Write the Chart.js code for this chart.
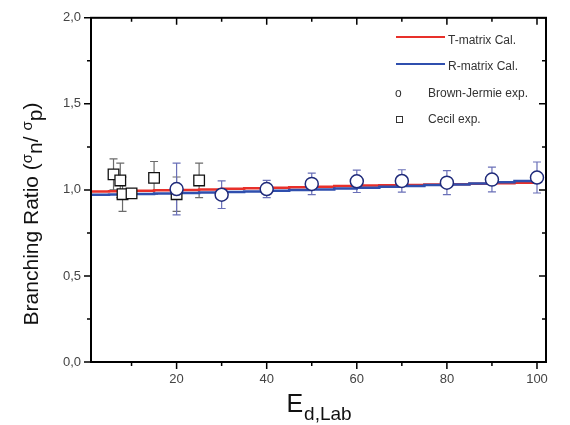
<!DOCTYPE html>
<html lang="en">
<head>
  <meta charset="UTF-8">
  <title>Branching Ratio</title>
  <script src="https://cdn.jsdelivr.net/npm/chart.js"></script>
  <style>
    body { margin: 0; background: #fff; }
  </style>
</head>
<body>
  <canvas id="chart" width="570" height="425"></canvas>

  <script>
    // calculations (T-matrix, R-matrix)
    const calcX = [1, 5, 10, 15, 20, 25, 30, 35, 40, 45, 50, 55, 60, 65, 70, 75, 80, 85, 90, 95, 100];
    const tMatrix = [0.990, 0.992, 0.995, 0.998, 1.000, 1.003, 1.006, 1.010, 1.013, 1.016, 1.019, 1.022, 1.025, 1.027, 1.029, 1.031, 1.033, 1.036, 1.039, 1.042, 1.045];
    const rMatrix = [0.972, 0.973, 0.976, 0.979, 0.982, 0.985, 0.988, 0.991, 0.995, 0.999, 1.003, 1.008, 1.013, 1.018, 1.023, 1.028, 1.032, 1.037, 1.045, 1.052, 1.058];

    // Brown-Jermie exp.
    const bjX = [20, 30, 40, 50, 60, 70, 80, 90, 100];
    const bjY = [1.005, 0.972, 1.005, 1.035, 1.050, 1.052, 1.042, 1.060, 1.072];
    const bjErr = [0.150, 0.080, 0.050, 0.062, 0.065, 0.065, 0.070, 0.072, 0.090];

    // Cecil exp.
    const cecilX = [6, 7.5, 8, 10, 15, 20, 25];
    const cecilY = [1.090, 1.055, 0.975, 0.980, 1.070, 0.975, 1.055];
    const cecilErr = [0.090, 0.100, 0.100, 0.020, 0.095, 0.100, 0.100];

    const yTicks = [0, 0.5, 1.0, 1.5, 2.0];
    const xTicks = [20, 40, 60, 80, 100];

    const FONT = '"Liberation Sans", Arial, sans-serif';
    const pts = (xs, ys) => xs.map((x, i) => ({ x: x, y: ys[i] }));

    // error bars, drawn behind the markers
    const errorBars = {
      id: 'errorBars',
      beforeDatasetsDraw(chart) {
        const { ctx, scales: { x, y } } = chart;
        const sets = [
          { xs: cecilX, ys: cecilY, es: cecilErr, color: '#6b6b6b' },
          { xs: bjX, ys: bjY, es: bjErr, color: '#6a70b8' }
        ];
        ctx.save();
        ctx.lineWidth = 1.2;
        for (const s of sets) {
          ctx.strokeStyle = s.color;
          s.xs.forEach((xv, i) => {
            const px = x.getPixelForValue(xv);
            const top = y.getPixelForValue(s.ys[i] + s.es[i]);
            const bot = y.getPixelForValue(s.ys[i] - s.es[i]);
            ctx.beginPath();
            ctx.moveTo(px, top); ctx.lineTo(px, bot);
            ctx.moveTo(px - 4, top); ctx.lineTo(px + 4, top);
            ctx.moveTo(px - 4, bot); ctx.lineTo(px + 4, bot);
            ctx.stroke();
          });
        }
        ctx.restore();
      }
    };

    // frame, ticks, axis titles, legend
    const frame = {
      id: 'frame',
      afterDraw(chart) {
        const { ctx, chartArea: a, scales: { x, y } } = chart;
        ctx.save();
        ctx.strokeStyle = '#000';
        ctx.lineWidth = 2;
        ctx.strokeRect(a.left, a.top, a.right - a.left, a.bottom - a.top);

        ctx.lineWidth = 1.5;
        ctx.beginPath();
        for (let v = 0; v <= 2.001; v += 0.25) {
          const py = y.getPixelForValue(v);
          const len = Math.abs(v / 0.5 - Math.round(v / 0.5)) < 0.01 ? 7 : 4;
          ctx.moveTo(a.left - len, py); ctx.lineTo(a.left, py);
          ctx.moveTo(a.right, py); ctx.lineTo(a.right - len, py);
        }
        for (let v = 10; v <= 100; v += 10) {
          const px = x.getPixelForValue(v);
          const len = v % 20 === 0 ? 7 : 4;
          ctx.moveTo(px, a.bottom); ctx.lineTo(px, a.bottom + len);
          ctx.moveTo(px, a.top); ctx.lineTo(px, a.top + len);
        }
        ctx.stroke();

        // x title: E_{d,Lab}
        ctx.fillStyle = '#111';
        ctx.textBaseline = 'alphabetic';
        ctx.textAlign = 'left';
        const cx = (a.left + a.right) / 2;
        ctx.font = '25px ' + FONT;
        const wE = ctx.measureText('E').width;
        ctx.font = '19px ' + FONT;
        const wS = ctx.measureText('d,Lab').width;
        const sx = cx - (wE + wS) / 2;
        ctx.font = '25px ' + FONT;
        ctx.fillText('E', sx, 412);
        ctx.font = '19px ' + FONT;
        ctx.fillText('d,Lab', sx + wE + 1, 420);

        // y title: Branching Ratio (σn/ σp)
        const parts = [
          ['Branching Ratio (', 21, 0],
          ['σ', 15, -6],
          ['n', 21, 4],
          ['/ ', 21, 0],
          ['σ', 15, -6],
          ['p', 21, 4],
          [')', 21, 0]
        ];
        let total = 0;
        for (const p of parts) {
          ctx.font = p[1] + 'px ' + FONT;
          total += ctx.measureText(p[0]).width;
        }
        ctx.translate(38, 214);
        ctx.rotate(-Math.PI / 2);
        let tx = -total / 2;
        for (const p of parts) {
          ctx.font = p[1] + 'px ' + FONT;
          ctx.fillText(p[0], tx, p[2]);
          tx += ctx.measureText(p[0]).width;
        }
        ctx.setTransform(1, 0, 0, 1, 0, 0);

        // legend
        ctx.font = '12px ' + FONT;
        ctx.fillStyle = '#333';
        ctx.textBaseline = 'middle';
        ctx.lineWidth = 2;
        ctx.strokeStyle = '#e8302a';
        ctx.beginPath(); ctx.moveTo(396, 37); ctx.lineTo(445, 37); ctx.stroke();
        ctx.fillText('T-matrix Cal.', 448, 41);
        ctx.strokeStyle = '#2f4fae';
        ctx.beginPath(); ctx.moveTo(396, 64); ctx.lineTo(445, 64); ctx.stroke();
        ctx.fillText('R-matrix Cal.', 448, 67);
        ctx.fillText('o', 395, 94);
        ctx.fillText('Brown-Jermie exp.', 428, 94);
        ctx.lineWidth = 1;
        ctx.strokeStyle = '#333';
        ctx.strokeRect(396.5, 116.5, 6, 6);
        ctx.fillText('Cecil exp.', 428, 120);
        ctx.restore();
      }
    };

    new Chart(document.getElementById('chart'), {
      type: 'scatter',
      data: {
        datasets: [
          {
            label: 'T-matrix Cal.',
            type: 'line',
            data: pts(calcX, tMatrix),
            borderColor: '#e8302a',
            borderWidth: 2.5,
            pointRadius: 0,
            stepped: true,
            order: 4
          },
          {
            label: 'R-matrix Cal.',
            type: 'line',
            data: pts(calcX, rMatrix),
            borderColor: '#2f4fae',
            borderWidth: 2.5,
            pointRadius: 0,
            stepped: true,
            order: 3
          },
          {
            label: 'Cecil exp.',
            data: pts(cecilX, cecilY),
            pointStyle: 'rect',
            pointRadius: 7.5,
            backgroundColor: '#fff',
            borderColor: '#111',
            borderWidth: 1.3,
            order: 2
          },
          {
            label: 'Brown-Jermie exp.',
            data: pts(bjX, bjY),
            pointStyle: 'circle',
            pointRadius: 6.5,
            backgroundColor: '#fff',
            borderColor: '#1f2a7a',
            borderWidth: 1.5,
            order: 1
          }
        ]
      },
      options: {
        responsive: false,
        animation: false,
        layout: { padding: { top: 14, right: 24, left: 0, bottom: 0 } },
        plugins: {
          legend: { display: false },
          tooltip: { enabled: false }
        },
        scales: {
          x: {
            type: 'linear',
            min: 1,
            max: 102,
            afterFit: s => { s.height = 63; },
            afterBuildTicks: s => { s.ticks = xTicks.map(v => ({ value: v })); },
            grid: { display: false, drawTicks: false },
            border: { display: false },
            ticks: {
              padding: 10,
              color: '#444',
              font: { size: 13, family: FONT }
            }
          },
          y: {
            min: 0,
            max: 2,
            afterFit: s => { s.width = 91; },
            afterBuildTicks: s => { s.ticks = yTicks.map(v => ({ value: v })); },
            grid: { display: false, drawTicks: false },
            border: { display: false },
            ticks: {
              padding: 10,
              color: '#444',
              font: { size: 13, family: FONT },
              callback: v => v.toFixed(1).replace('.', ',')
            }
          }
        }
      },
      plugins: [errorBars, frame]
    });
  </script>
</body>
</html>
